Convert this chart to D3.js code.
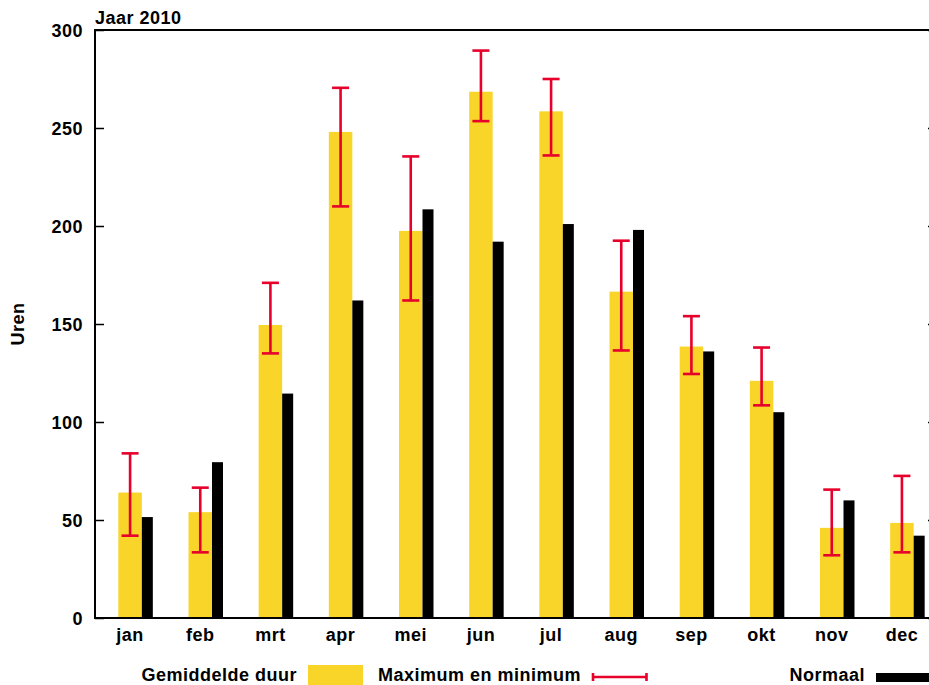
<!DOCTYPE html>
<html>
<head>
<meta charset="utf-8">
<script src="https://cdn.jsdelivr.net/npm/d3@7"></script>
<style>
html,body{margin:0;padding:0;background:#fff;overflow:hidden;}
text{font-family:"Liberation Sans",Arial,Helvetica,sans-serif;font-weight:bold;font-size:18px;letter-spacing:0.5px;fill:#000;}
</style>
</head>
<body>
<svg id="chart" width="929" height="685"></svg>
<script>
const months = ["jan","feb","mrt","apr","mei","jun","jul","aug","sep","okt","nov","dec"];
const gemiddeld = [64, 54, 149.5, 248, 197.5, 268.5, 258.5, 166.5, 138.5, 121, 46, 48.5];
const maximum   = [84, 66.5, 171, 270.5, 235.5, 289.5, 275, 192.5, 154, 138, 65.5, 72.5];
const minimum   = [42, 33.5, 135, 210, 162, 253.5, 236, 136.5, 124.5, 108.5, 32, 33.5];
const normaal   = [51.5, 79.5, 114.5, 162, 208.5, 192, 201, 198, 136, 105, 60, 42];
const yTicks = [0, 50, 100, 150, 200, 250, 300];
const title = "Jaar 2010";
const yLabel = "Uren";
const legendLabels = ["Gemiddelde duur", "Maximum en minimum", "Normaal"];

const YELLOW = "#f9d52a", RED = "#e6002b", BLACK = "#000";
const svg = d3.select("#chart");
const L = 95, R = 937, T = 30, B = 618;

const x = d3.scaleBand().domain(months).range([L, R]).padding(0);
const y = d3.scaleLinear().domain([0, 300]).range([B, T]);
const cx = m => x(m) + x.bandwidth() / 2;
const yw = 23.5, bw = 11;

const data = months.map((m, i) => ({m, g: gemiddeld[i], mx: maximum[i], mn: minimum[i], n: normaal[i]}));

// yellow bars
svg.append("g").selectAll("rect").data(data).join("rect")
  .attr("x", d => cx(d.m) - yw / 2).attr("width", yw)
  .attr("y", d => y(d.g)).attr("height", d => y(0) - y(d.g))
  .attr("fill", YELLOW);

// black bars
svg.append("g").selectAll("rect").data(data).join("rect")
  .attr("x", d => cx(d.m) + yw / 2).attr("width", bw)
  .attr("y", d => y(d.n)).attr("height", d => y(0) - y(d.n))
  .attr("fill", BLACK);

// error bars
const eb = svg.append("g").attr("stroke", RED).attr("stroke-width", 2.6);
eb.selectAll(".v").data(data).join("line")
  .attr("x1", d => cx(d.m)).attr("x2", d => cx(d.m))
  .attr("y1", d => y(d.mx)).attr("y2", d => y(d.mn));
eb.selectAll(".t").data(data).join("line")
  .attr("x1", d => cx(d.m) - 8.5).attr("x2", d => cx(d.m) + 8.5)
  .attr("y1", d => y(d.mx)).attr("y2", d => y(d.mx));
eb.selectAll(".b").data(data).join("line")
  .attr("x1", d => cx(d.m) - 8.5).attr("x2", d => cx(d.m) + 8.5)
  .attr("y1", d => y(d.mn)).attr("y2", d => y(d.mn));

// axes
const yAxisL = d3.axisLeft(y).tickValues(yTicks).tickSize(-9).tickPadding(12).tickFormat(d3.format("d"));
const gl = svg.append("g").attr("transform", `translate(${L},0)`).call(yAxisL);
gl.select(".domain").remove();
gl.selectAll(".tick line").attr("stroke", "#000").attr("stroke-width", 1.5);
gl.selectAll(".tick text").attr("font-size", null).attr("font-family", null).attr("dy", "0.36em");

const yAxisR = d3.axisRight(y).tickValues(yTicks).tickSize(-9).tickFormat("");
const gr = svg.append("g").attr("transform", `translate(${R},0)`).call(yAxisR);
gr.select(".domain").remove();
gr.selectAll(".tick line").attr("stroke", "#000").attr("stroke-width", 1.5);

const xAxis = d3.axisBottom(x).tickSize(0).tickPadding(10);
const gx = svg.append("g").attr("transform", `translate(0,${B})`).call(xAxis);
gx.select(".domain").remove();
gx.selectAll(".tick text").attr("font-size", null).attr("font-family", null).attr("dy", "0.71em");

// frame
svg.append("rect").attr("x", L).attr("y", T).attr("width", R - L).attr("height", B - T)
  .attr("fill", "none").attr("stroke", "#000").attr("stroke-width", 2);

// title
svg.append("text").attr("x", L).attr("y", 24).text(title);

// y label
svg.append("text").attr("transform", "translate(24,324) rotate(-90)").attr("text-anchor", "middle").text(yLabel);

// legend
const lg = svg.append("g");
lg.append("text").attr("x", 297).attr("y", 681).attr("text-anchor", "end").text(legendLabels[0]);
lg.append("rect").attr("x", 308).attr("y", 665).attr("width", 55).attr("height", 20).attr("fill", YELLOW);
lg.append("text").attr("x", 581).attr("y", 681).attr("text-anchor", "end").text(legendLabels[1]);
const le = lg.append("g").attr("stroke", RED).attr("stroke-width", 2.6);
le.append("line").attr("x1", 592).attr("x2", 647).attr("y1", 677).attr("y2", 677);
le.append("line").attr("x1", 593).attr("x2", 593).attr("y1", 673).attr("y2", 681);
le.append("line").attr("x1", 646.5).attr("x2", 646.5).attr("y1", 673).attr("y2", 681);
lg.append("text").attr("x", 865).attr("y", 681).attr("text-anchor", "end").text(legendLabels[2]);
lg.append("rect").attr("x", 876).attr("y", 673).attr("width", 61).attr("height", 9).attr("fill", BLACK);
</script>
</body>
</html>
